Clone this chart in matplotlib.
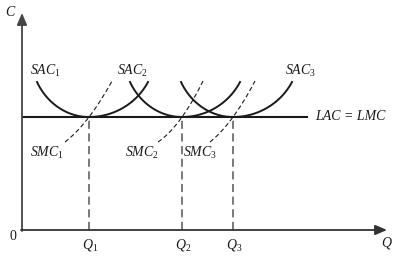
import numpy as np
import matplotlib
matplotlib.use('Agg')
import matplotlib.pyplot as plt

plt.rcParams['mathtext.fontset'] = 'custom'
plt.rcParams['mathtext.it'] = 'Liberation Serif:italic'
plt.rcParams['mathtext.rm'] = 'Liberation Serif'
plt.rcParams['font.family'] = 'Liberation Serif'

# values (origin = axes corner)
q_points = [67, 160, 211]          # Q1, Q2, Q3
lac_level = 113                    # LAC = LMC
lac_end = 286
sac_left = [15, 108, 159]          # where each SAC starts
sac_right = [126, 218, 270]        # where each SAC ends
sac_top = 148                      # height of SAC ends
smc_low_x = [43, 136, 188]
smc_low_y = 88
smc_high_x = [90, 181, 233]
smc_high_y = 149
x_axis_end = 365
y_axis_end = 217

sac_labels = [r'$SAC_1$', r'$SAC_2$', r'$SAC_3$']
smc_labels = [r'$SMC_1$', r'$SMC_2$', r'$SMC_3$']
q_labels = [r'$Q_1$', r'$Q_2$', r'$Q_3$']
sac_label_x = [8, 95, 263]
smc_label_x = [8, 103, 161]

ink = '#1a1a1a'
grey = '#6e6e6e'

fig = plt.figure(figsize=(4.02, 2.58), dpi=100)
ax = fig.add_axes([0, 0, 1, 1])
ax.set_xlim(-22, 380)
ax.set_ylim(-28, 230)
ax.axis('off')

# axes with arrows
ax.annotate('', xy=(0, y_axis_end), xytext=(0, -1),
            arrowprops=dict(arrowstyle='-|>,head_length=0.7,head_width=0.3',
                            color='#444444', lw=1.3, shrinkA=0, shrinkB=0))
ax.annotate('', xy=(x_axis_end, 0), xytext=(-1, 0),
            arrowprops=dict(arrowstyle='-|>,head_length=0.7,head_width=0.3',
                            color='#333333', lw=1.3, shrinkA=0, shrinkB=0))

# LAC = LMC
ax.plot([0, lac_end], [lac_level, lac_level], color=ink, lw=1.5, solid_capstyle='butt')

# SAC curves (U-shaped, min on LAC at Q)
b = 65.0
rise = sac_top - lac_level
k = np.sqrt(1 - (1 - rise / b) ** 2)
for q, lo, hi in zip(q_points, sac_left, sac_right):
    xl = np.linspace(lo, q, 60)
    al = (q - lo) / k
    yl = lac_level + b * (1 - np.sqrt(np.clip(1 - ((xl - q) / al) ** 2, 0, 1)))
    xr = np.linspace(q, hi, 60)
    ar = (hi - q) / k
    yr = lac_level + b * (1 - np.sqrt(np.clip(1 - ((xr - q) / ar) ** 2, 0, 1)))
    ax.plot(np.r_[xl, xr], np.r_[yl, yr], color=ink, lw=1.4)

# SMC curves (dashed), through SAC minimum
for q, xl, xh in zip(q_points, smc_low_x, smc_high_x):
    coef = np.polyfit([xl, q, xh], [smc_low_y, lac_level, smc_high_y], 2)
    xs = np.linspace(xl, xh, 50)
    ax.plot(xs, np.polyval(coef, xs), color=ink, lw=0.8, dashes=(4, 2.5))

# vertical guides at Q
for q in q_points:
    ax.plot([q, q], [0, lac_level], color=grey, lw=1.3, dashes=(4.5, 2.5))

# labels
ax.text(-11, 218, '$C$', fontsize=10, color=ink, ha='center', va='center')
ax.text(365, -13, '$Q$', fontsize=10, color=ink, ha='center', va='center')
ax.text(-9, -6, '0', fontsize=10, color=ink, ha='center', va='center')
for x, lab in zip(sac_label_x, sac_labels):
    ax.text(x, 159, lab, fontsize=10, color=ink, ha='left', va='center')
for x, lab in zip(smc_label_x, smc_labels):
    ax.text(x, 77, lab, fontsize=10, color=ink, ha='left', va='center')
for q, lab in zip(q_points, q_labels):
    ax.text(q + 1, -15, lab, fontsize=10, color=ink, ha='center', va='center')
ax.text(lac_end + 7, lac_level, 'LAC = LMC', fontsize=10, style='italic',
        color=ink, ha='left', va='center')

fig.savefig('out.png', dpi=100)
